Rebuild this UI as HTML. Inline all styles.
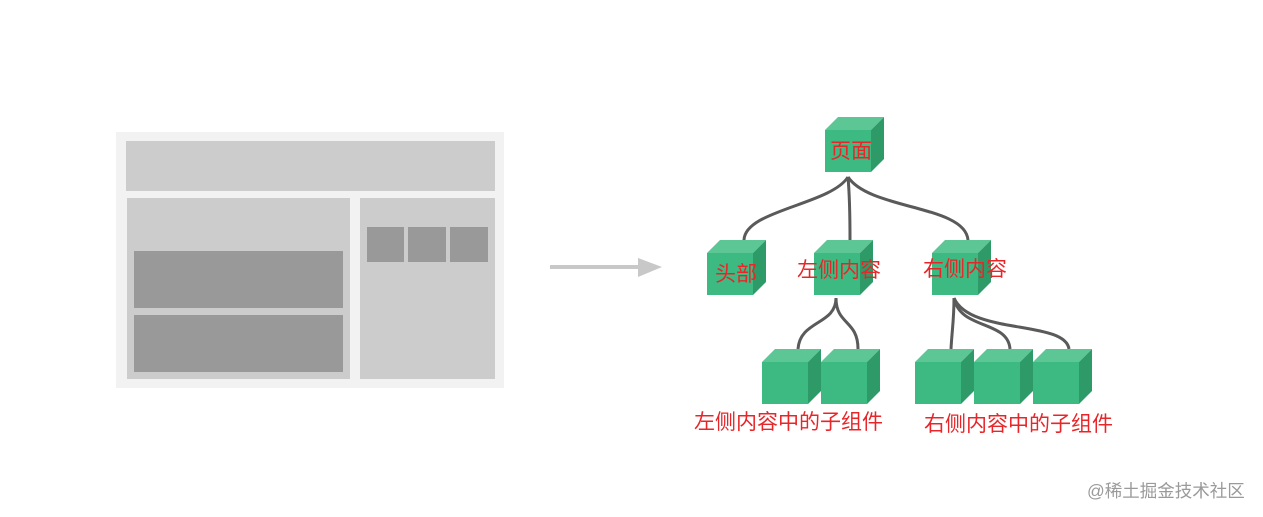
<!DOCTYPE html>
<html><head><meta charset="utf-8"><style>
html,body{margin:0;padding:0;background:#fff;width:1263px;height:517px;overflow:hidden}
svg text{font-family:"Liberation Sans","Noto Sans CJK SC",sans-serif}
</style></head><body>
<svg width="1263" height="517" viewBox="0 0 1263 517" xmlns="http://www.w3.org/2000/svg">
<defs>
<g id="cube">
<polygon points="0,0 13,-13 59,-13 46,0" fill="#5cc795"/>
<polygon points="46,0 59,-13 59,29 46,42" fill="#2e9a68"/>
<rect x="0" y="0" width="46" height="42" fill="#3dba82"/>
</g>
</defs>
<rect x="116" y="132" width="388" height="256" fill="#f2f2f2"/>
<rect x="126" y="141" width="369" height="50" fill="#cccccc"/>
<rect x="127" y="198" width="223" height="181" fill="#cccccc"/>
<rect x="360" y="198" width="135" height="181" fill="#cccccc"/>
<rect x="134" y="251" width="209" height="57" fill="#999"/>
<rect x="134" y="315" width="209" height="57" fill="#999"/>
<rect x="367" y="227" width="37" height="35" fill="#999"/>
<rect x="408" y="227" width="38" height="35" fill="#999"/>
<rect x="450" y="227" width="38" height="35" fill="#999"/>
<line x1="550" y1="267" x2="640" y2="267" stroke="#c8c8c8" stroke-width="4"/>
<polygon points="638,258 662,267 638,277" fill="#c8c8c8"/>
<g fill="none" stroke="#5a5a5a" stroke-width="3">
<path d="M848,177 C830,205 745,210 744,240"/>
<path d="M848,177 C850,200 850,220 850,240"/>
<path d="M848,177 C870,210 965,205 968,240"/>
<path d="M836,298 C836,325 800,320 798,349"/>
<path d="M836,298 C836,325 858,320 858,349"/>
<path d="M954,298 C954,320 952,330 951,349"/>
<path d="M954,298 C960,330 1008,320 1010,349"/>
<path d="M954,298 C970,335 1065,320 1069,349"/>
</g>
<use href="#cube" x="825" y="130"/>
<use href="#cube" x="707" y="253"/>
<use href="#cube" x="814" y="253"/>
<use href="#cube" x="932" y="253"/>
<use href="#cube" x="762" y="362"/>
<use href="#cube" x="821" y="362"/>
<use href="#cube" x="915" y="362"/>
<use href="#cube" x="974" y="362"/>
<use href="#cube" x="1033" y="362"/>
<g fill="#e8262a" font-size="21">
<text x="830" y="158">页面</text>
<text x="715" y="281">头部</text>
<text x="797" y="277">左侧内容</text>
<text x="923" y="276">右侧内容</text>
<text x="694" y="429">左侧内容中的子组件</text>
<text x="924" y="431">右侧内容中的子组件</text>
</g>
<text x="1087" y="497" font-size="17.5" fill="#9a9a9a">@稀土掘金技术社区</text>
</svg>
</body></html>
